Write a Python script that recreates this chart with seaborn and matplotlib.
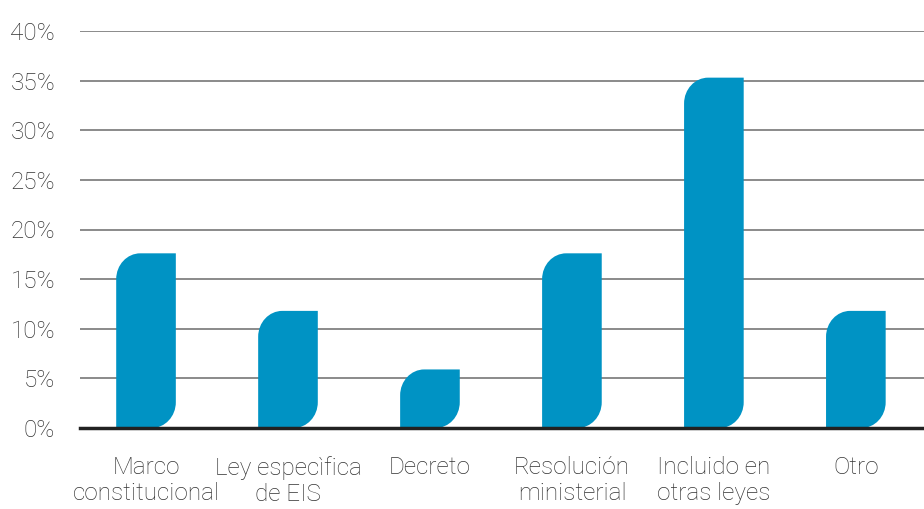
import numpy as np
import pandas as pd
import matplotlib
matplotlib.use("Agg")
import matplotlib.pyplot as plt
import seaborn as sns
from matplotlib.path import Path
from matplotlib.patches import PathPatch

categorias = ["Marco\nconstitucional", "Ley especìfica\nde EIS", "Decreto",
              "Resolución\nministerial", "Incluido en\notras leyes", "Otro"]
valores = [17.6, 11.8, 5.9, 17.6, 35.3, 11.8]
ticks_y = [0, 5, 10, 15, 20, 25, 30, 35, 40]
ticks_lab = ["0%", "5%", "10%", "15%", "20%", "25%", "30%", "35%", "40%"]

df = pd.DataFrame({"cat": categorias, "val": valores})

sns.set_theme(style="white")
plt.rcParams["font.family"] = ["Roboto", "DejaVu Sans"]
color_barra = "#0093c4"
color_txt = "#333333"

fig = plt.figure(figsize=(9.24, 5.09), dpi=100)
ax = fig.add_axes([80 / 924, 1 - 428 / 509, 844 / 924, 397 / 509])

sns.barplot(data=df, x="cat", y="val", color=color_barra, width=0.42,
            saturation=1, ax=ax, zorder=3)

ax.set_xlim(-0.465, 5.48)
ax.set_ylim(0, 40)


def hoja(x0, x1, y0, y1, rx, ry):
    # barra con esquina sup-izq e inf-der redondeadas
    k = 0.5523
    ry = min(ry, (y1 - y0) / 2)
    verts = [
        (x0, y0), (x1 - rx, y0),
        (x1 - rx + k * rx, y0), (x1, y0 + ry - k * ry), (x1, y0 + ry),
        (x1, y1),
        (x0 + rx, y1),
        (x0 + rx - k * rx, y1), (x0, y1 - ry + k * ry), (x0, y1 - ry),
        (x0, y0),
    ]
    codes = [Path.MOVETO, Path.LINETO,
             Path.CURVE4, Path.CURVE4, Path.CURVE4,
             Path.LINETO, Path.LINETO,
             Path.CURVE4, Path.CURVE4, Path.CURVE4,
             Path.CLOSEPOLY]
    return Path(verts, codes)


for p in list(ax.patches):
    x0 = p.get_x()
    w = p.get_width()
    h = p.get_height()
    p.set_visible(False)
    ax.add_patch(PathPatch(hoja(x0, x0 + w, 0, h, 0.17, 2.6),
                           facecolor=color_barra, edgecolor="none", zorder=3))

ax.set_yticks(ticks_y)
ax.set_yticklabels(ticks_lab)
ax.yaxis.grid(True, color="#8a8a8a", linewidth=1.4, zorder=0)
ax.xaxis.grid(False)
for s in ["top", "right", "left"]:
    ax.spines[s].set_visible(False)
ax.spines["bottom"].set_color("#222222")
ax.spines["bottom"].set_linewidth(2.5)
ax.spines["bottom"].set_zorder(4)

ax.tick_params(axis="y", length=0, pad=18, labelsize=17.5, labelcolor=color_txt)
ax.tick_params(axis="x", length=0, pad=20, labelsize=17.5, labelcolor=color_txt)
for t in ax.get_xticklabels() + ax.get_yticklabels():
    t.set_fontweight("light")
for t in ax.get_xticklabels():
    t.set_linespacing(1.18)
ax.set_xlabel("")
ax.set_ylabel("")

fig.savefig("out.png", dpi=100)
